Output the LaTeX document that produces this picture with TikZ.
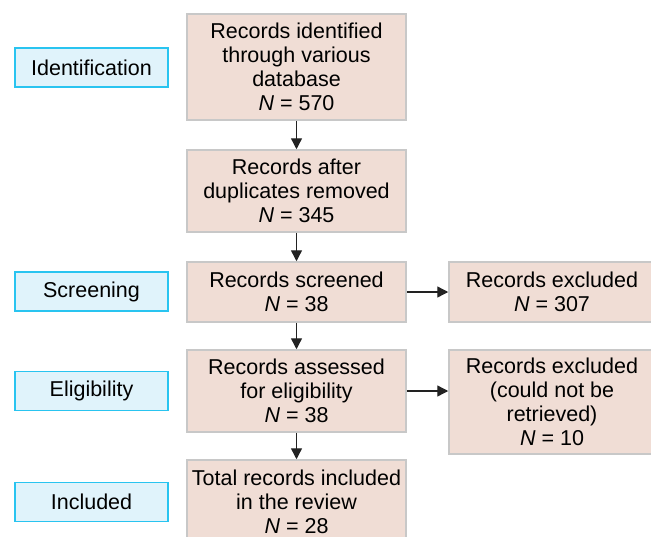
\documentclass[tikz,border=0pt]{standalone}
\usepackage{fontspec}
\setmainfont{Liberation Sans}
\usetikzlibrary{arrows.meta}
\definecolor{boxfill}{RGB}{240,221,213}
\definecolor{boxline}{RGB}{200,200,200}
\definecolor{labfill}{RGB}{224,243,251}
\definecolor{labline}{RGB}{41,196,240}
\definecolor{arr}{RGB}{34,34,34}
\tikzset{
  mainbox/.style={draw=boxline, fill=boxfill, line width=1.5pt, rectangle, align=center, inner sep=0pt,
    font=\fontsize{21.5}{24}\selectfont, minimum width=219pt},
  sidebox/.style={mainbox, minimum width=206pt},
  labbox/.style={draw=labline, fill=labfill, line width=1.5pt, rectangle, inner sep=0pt,
    font=\fontsize{21.5}{24}\selectfont, minimum width=153pt, minimum height=39pt},
  conn/.style={draw=arr, line width=1.4pt, -{Triangle[length=11pt,width=11pt]}}
}
\begin{document}
\begin{tikzpicture}[x=1pt,y=-1pt]
\useasboundingbox (0,0) rectangle (651,536);
\node[mainbox, minimum height=106pt] (b1) at (296.5,67) {Records identified\\through various\\database\\\textit{N} = 570};
\node[mainbox, minimum height=82pt] (b2) at (296.5,191) {Records after\\duplicates removed\\\textit{N} = 345};
\node[mainbox, minimum height=60pt] (b3) at (296.5,292) {Records screened\\\textit{N} = 38};
\node[mainbox, minimum height=82pt] (b4) at (296.5,391) {Records assessed\\for eligibility\\\textit{N} = 38};
\node[mainbox, minimum height=84pt] (b5) at (296.5,502) {Total records included\\in the review\\\textit{N} = 28};
\node[sidebox, minimum height=60pt] (r1) at (552,292) {Records excluded\\\textit{N} = 307};
\node[sidebox, minimum height=104pt] (r2) at (552,402) {Records excluded\\(could not be\\retrieved)\\\textit{N} = 10};
\node[labbox] (l1) at (91.5,67.5) {Identification};
\node[labbox] (l2) at (91.5,291.5) {Screening};
\node[labbox] (l3) at (91.5,391) {Eligibility};
\node[labbox] (l4) at (91.5,502) {Included};
\draw[conn] (b1) -- (b2);
\draw[conn] (b2) -- (b3);
\draw[conn] (b3) -- (b4);
\draw[conn] (b4) -- (b5);
\draw[conn] (b3.east) -- (b3.east -| r1.west);
\draw[conn] (b4.east) -- (b4.east -| r2.west);
\end{tikzpicture}
\end{document}
